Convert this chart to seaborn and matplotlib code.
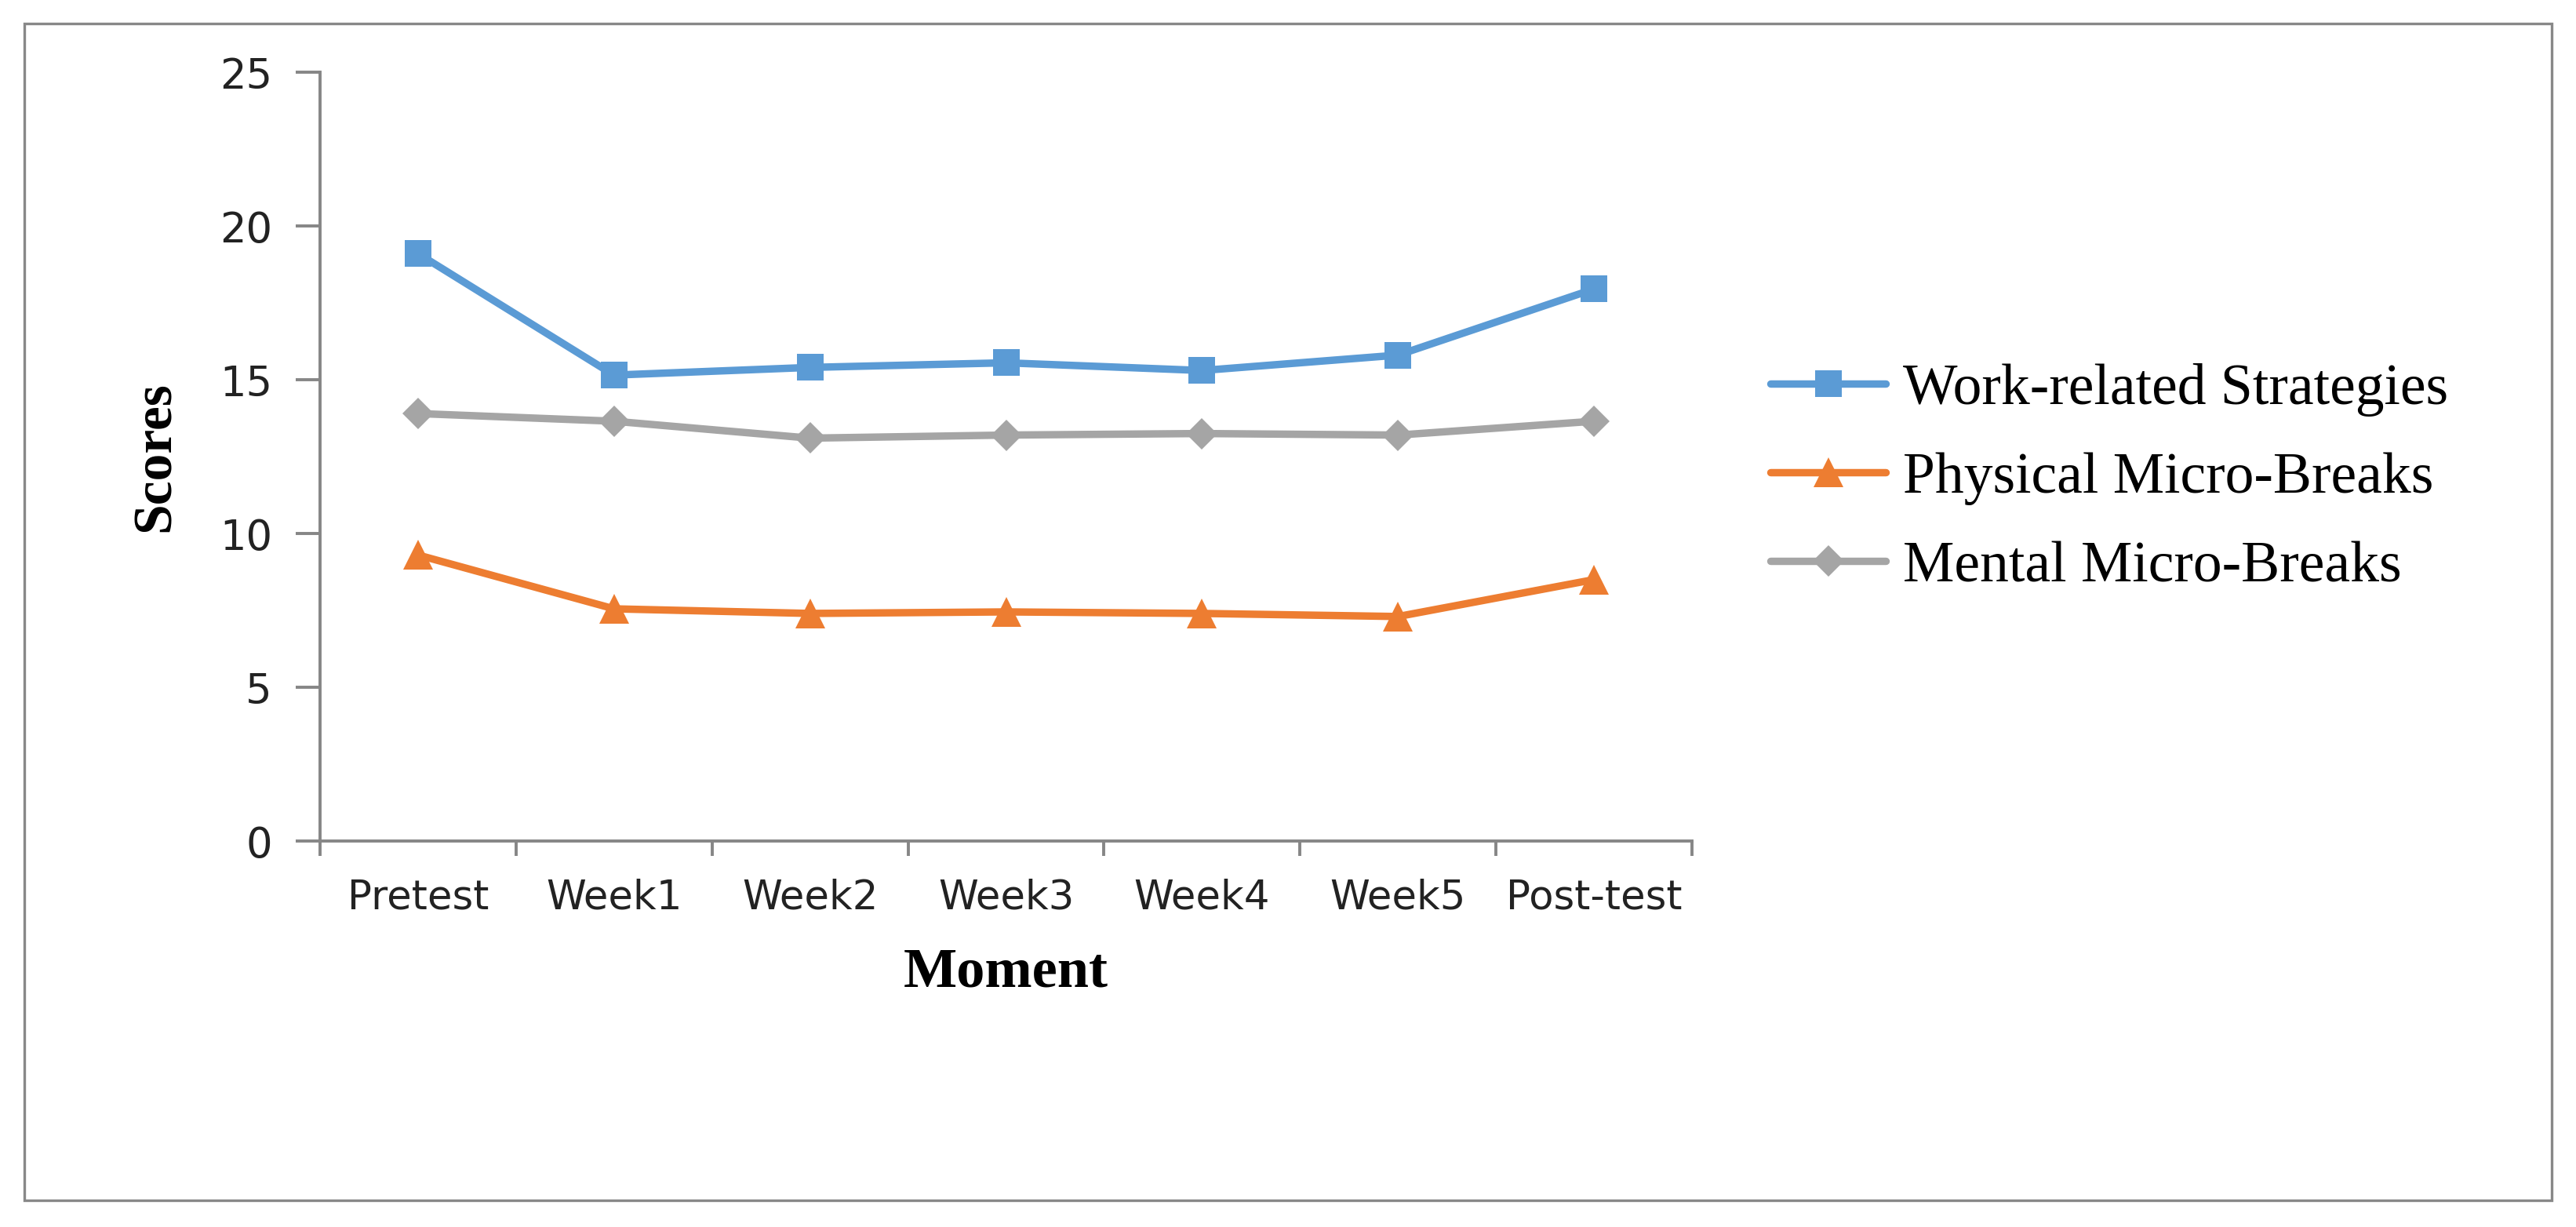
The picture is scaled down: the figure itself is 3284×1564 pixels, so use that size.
import matplotlib
matplotlib.use('Agg')
import matplotlib.pyplot as plt
from matplotlib.patches import Rectangle
from matplotlib.ticker import FixedLocator
import seaborn as sns
import pandas as pd

# values
moments = ["Pretest", "Week1", "Week2", "Week3", "Week4", "Week5", "Post-test"]
work_related = [19.1, 15.15, 15.4, 15.55, 15.3, 15.8, 17.95]
physical_breaks = [9.3, 7.55, 7.4, 7.45, 7.4, 7.3, 8.5]
mental_breaks = [13.9, 13.65, 13.1, 13.2, 13.25, 13.2, 13.65]
series_names = ["Work-related Strategies", "Physical Micro-Breaks", "Mental Micro-Breaks"]
y_ticks = [0, 5, 10, 15, 20, 25]

rows = []
for name, vals in zip(series_names, [work_related, physical_breaks, mental_breaks]):
    for i, v in enumerate(vals):
        rows.append({"pos": i, "Moment": moments[i], "Scores": v, "series": name})
df = pd.DataFrame(rows)

sns.set_theme(style="white")

W, H, DPI = 3284, 1564, 200
fig = plt.figure(figsize=(W / DPI, H / DPI), dpi=DPI)
ax = fig.add_axes([408 / W, 1 - 1072 / H, (2157 - 408) / W, (1072 - 92) / H])

palette = {"Work-related Strategies": "#5B9BD5",
           "Physical Micro-Breaks": "#ED7D31",
           "Mental Micro-Breaks": "#A5A5A5"}
markers = {"Work-related Strategies": "s",
           "Physical Micro-Breaks": "^",
           "Mental Micro-Breaks": "D"}

sns.lineplot(data=df, x="pos", y="Scores", hue="series", style="series",
             palette=palette, markers=markers, dashes=False, ax=ax,
             linewidth=3.4, markersize=12.5, markeredgewidth=0)
# diamond a bit smaller, like the Excel one
for line in ax.lines:
    if line.get_marker() == "D":
        line.set_markersize(10)
    elif line.get_marker() == "^":
        line.set_markersize(13.5)

ax.set_xlim(-0.5, len(moments) - 0.5)
ax.set_ylim(0, 25)
ax.set_yticks(y_ticks)
ax.set_xticks(range(len(moments)))
ax.set_xticklabels(moments)
ax.xaxis.set_minor_locator(FixedLocator([i - 0.5 for i in range(len(moments) + 1)]))

spine_col = "#868686"
for s in ["top", "right"]:
    ax.spines[s].set_visible(False)
for s in ["left", "bottom"]:
    ax.spines[s].set_color(spine_col)
    ax.spines[s].set_linewidth(1.4)

tick_font = "DejaVu Sans"
ax.tick_params(axis="y", which="major", direction="out", length=11, width=1.4,
               color=spine_col, pad=11, labelsize=19, left=True)
ax.tick_params(axis="x", which="major", length=0, pad=17, labelsize=18.5)
ax.tick_params(axis="x", which="minor", direction="out", length=7, width=1.4,
               color=spine_col, bottom=True)
for lab in ax.get_xticklabels() + ax.get_yticklabels():
    lab.set_family(tick_font)
    lab.set_color("#222222")

ax.set_xlabel("")
ax.set_ylabel("")
fig.text(1282 / W, 1 - 1240 / H, "Moment", ha="center", va="center",
         family="Liberation Serif", fontweight="bold", fontsize=26, color="black")
fig.text(199 / W, 1 - 582 / H, "Scores", ha="center", va="center", rotation=90,
         family="Liberation Serif", fontweight="bold", fontsize=25, color="black")

handles, labels = ax.get_legend_handles_labels()
leg = ax.legend(handles, labels, loc="center left",
                bbox_to_anchor=(2257 / W, 1 - 610 / H), bbox_transform=fig.transFigure,
                frameon=False, borderpad=0, borderaxespad=0, handlelength=2.0,
                handletextpad=0.3, labelspacing=0.62,
                prop={"family": "Liberation Serif", "size": 26.5})
for t in leg.get_texts():
    t.set_color("black")

# outer frame
fig.patches.append(Rectangle((31 / W, 1 - 1530 / H), (3253 - 31) / W, (1530 - 30) / H,
                             transform=fig.transFigure, fill=False,
                             edgecolor="#888888", linewidth=1.2))

fig.savefig("out.png", dpi=DPI)
plt.close(fig)
